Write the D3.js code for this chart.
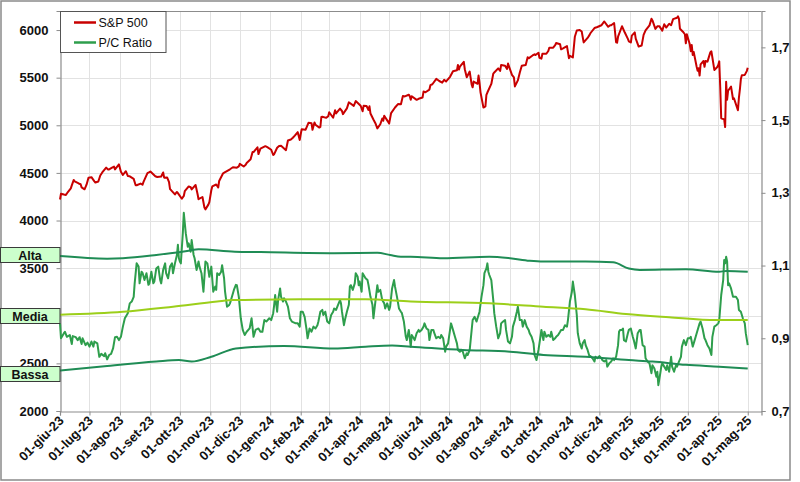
<!DOCTYPE html>
<html><head><meta charset="utf-8">
<script src="https://cdn.jsdelivr.net/npm/d3@7"></script>
<style>body{margin:0;background:#fff}svg{display:block}text{font-family:"Liberation Sans",Arial,sans-serif}</style>
</head><body><svg id="c" width="800" height="482"></svg>
<script>
// ---------- DATA ----------
const spxDates = [
"2023-06-01","2023-06-02","2023-06-05","2023-06-07","2023-06-09","2023-06-12","2023-06-13","2023-06-15","2023-06-16","2023-06-20","2023-06-22","2023-06-23","2023-06-26","2023-06-28","2023-06-30",
"2023-07-03","2023-07-06","2023-07-07","2023-07-10","2023-07-12","2023-07-14","2023-07-18","2023-07-20","2023-07-21","2023-07-24","2023-07-26","2023-07-27","2023-07-31",
"2023-08-02","2023-08-04","2023-08-07","2023-08-09","2023-08-11","2023-08-15","2023-08-17","2023-08-18","2023-08-22","2023-08-24","2023-08-25","2023-08-29","2023-08-31",
"2023-09-01","2023-09-06","2023-09-08","2023-09-12","2023-09-14","2023-09-15","2023-09-18","2023-09-20","2023-09-21","2023-09-22","2023-09-26","2023-09-28","2023-09-29",
"2023-10-03","2023-10-05","2023-10-06","2023-10-10","2023-10-12","2023-10-13","2023-10-17","2023-10-19","2023-10-20","2023-10-24","2023-10-26","2023-10-27","2023-10-30","2023-10-31",
"2023-11-02","2023-11-03","2023-11-07","2023-11-09","2023-11-10","2023-11-14","2023-11-16","2023-11-17","2023-11-21","2023-11-24","2023-11-28","2023-11-30",
"2023-12-01","2023-12-05","2023-12-07","2023-12-08","2023-12-12","2023-12-14","2023-12-15","2023-12-19","2023-12-20","2023-12-22","2023-12-27","2023-12-29",
"2024-01-02","2024-01-04","2024-01-05","2024-01-08","2024-01-10","2024-01-12","2024-01-17","2024-01-19","2024-01-22","2024-01-24","2024-01-26","2024-01-29","2024-01-31",
"2024-02-01","2024-02-02","2024-02-06","2024-02-09","2024-02-12","2024-02-13","2024-02-15","2024-02-16","2024-02-20","2024-02-21","2024-02-22","2024-02-23","2024-02-27","2024-02-29",
"2024-03-01","2024-03-05","2024-03-07","2024-03-08","2024-03-12","2024-03-14","2024-03-15","2024-03-19","2024-03-21","2024-03-22","2024-03-26","2024-03-28",
"2024-04-02","2024-04-04","2024-04-05","2024-04-08","2024-04-10","2024-04-11","2024-04-12","2024-04-15","2024-04-17","2024-04-19","2024-04-22","2024-04-24","2024-04-25","2024-04-26","2024-04-30",
"2024-05-01","2024-05-03","2024-05-07","2024-05-10","2024-05-13","2024-05-15","2024-05-17","2024-05-21","2024-05-22","2024-05-23","2024-05-24","2024-05-29","2024-05-31",
"2024-06-04","2024-06-05","2024-06-07","2024-06-11","2024-06-12","2024-06-14","2024-06-18","2024-06-20","2024-06-21","2024-06-24","2024-06-26","2024-06-28",
"2024-07-02","2024-07-05","2024-07-09","2024-07-10","2024-07-11","2024-07-12","2024-07-16","2024-07-17","2024-07-19","2024-07-22","2024-07-24","2024-07-25","2024-07-26","2024-07-30","2024-07-31",
"2024-08-01","2024-08-02","2024-08-05","2024-08-07","2024-08-08","2024-08-09","2024-08-13","2024-08-15","2024-08-16","2024-08-20","2024-08-22","2024-08-23","2024-08-27","2024-08-29","2024-08-30",
"2024-09-03","2024-09-05","2024-09-06","2024-09-09","2024-09-11","2024-09-13","2024-09-17","2024-09-19","2024-09-20","2024-09-24","2024-09-26","2024-09-27","2024-09-30",
"2024-10-01","2024-10-03","2024-10-04","2024-10-08","2024-10-10","2024-10-11","2024-10-15","2024-10-17","2024-10-18","2024-10-22","2024-10-23","2024-10-25","2024-10-29","2024-10-31",
"2024-11-01","2024-11-04","2024-11-06","2024-11-08","2024-11-11","2024-11-13","2024-11-15","2024-11-19","2024-11-21","2024-11-22","2024-11-26","2024-11-29",
"2024-12-03","2024-12-06","2024-12-10","2024-12-12","2024-12-13","2024-12-16","2024-12-18","2024-12-19","2024-12-20","2024-12-24","2024-12-27","2024-12-30","2024-12-31",
"2025-01-02","2025-01-03","2025-01-06","2025-01-07","2025-01-10","2025-01-13","2025-01-15","2025-01-17","2025-01-21","2025-01-23","2025-01-24","2025-01-27","2025-01-29","2025-01-31",
"2025-02-03","2025-02-05","2025-02-07","2025-02-10","2025-02-12","2025-02-14","2025-02-18","2025-02-19","2025-02-20","2025-02-21","2025-02-24","2025-02-26","2025-02-27","2025-02-28",
"2025-03-03","2025-03-04","2025-03-05","2025-03-06","2025-03-07","2025-03-10","2025-03-11","2025-03-12","2025-03-13","2025-03-14","2025-03-17","2025-03-18","2025-03-19","2025-03-21","2025-03-24","2025-03-25","2025-03-26","2025-03-28","2025-03-31",
"2025-04-01","2025-04-02","2025-04-03","2025-04-04","2025-04-07","2025-04-08","2025-04-09","2025-04-10","2025-04-11","2025-04-14","2025-04-16","2025-04-17","2025-04-21","2025-04-22","2025-04-23","2025-04-24","2025-04-25","2025-04-28","2025-04-30",
"2025-05-01"];
const spxValues = [
4221,4282,4273,4268,4299,4338,4369,4426,4410,4389,4381,4348,4328,4376,4450,
4455,4411,4399,4410,4473,4505,4555,4535,4536,4555,4566,4537,4589,
4513,4478,4518,4468,4464,4437,4370,4370,4388,4376,4406,4497,4508,
4515,4465,4457,4462,4505,4450,4453,4402,4330,4320,4274,4300,4288,
4229,4258,4308,4358,4349,4327,4373,4278,4224,4247,4137,4117,4167,4194,
4318,4358,4378,4347,4415,4496,4508,4514,4538,4559,4555,4568,
4595,4567,4585,4604,4644,4720,4719,4768,4698,4755,4781,4770,
4743,4688,4697,4764,4783,4784,4739,4840,4851,4869,4891,4928,4846,
4906,4959,4954,5027,5022,4953,5030,5006,4976,4982,5087,5089,5078,5096,
5137,5079,5157,5124,5175,5150,5117,5178,5241,5234,5204,5254,
5205,5147,5204,5202,5161,5199,5123,5061,5022,4967,5011,5071,5048,5100,5036,
5018,5128,5187,5223,5221,5308,5303,5321,5307,5268,5305,5267,5278,
5291,5354,5347,5375,5421,5431,5487,5473,5465,5448,5478,5460,
5509,5567,5577,5633,5585,5615,5667,5589,5505,5564,5427,5399,5459,5436,5522,
5446,5346,5186,5199,5319,5344,5434,5543,5554,5597,5571,5634,5625,5592,5648,
5529,5503,5408,5471,5554,5626,5634,5714,5703,5733,5745,5738,5762,
5709,5700,5751,5751,5780,5815,5815,5841,5864,5851,5797,5808,5832,5705,
5729,5712,5929,5995,6001,5985,5870,5917,5949,5969,6021,6032,
6050,6090,6034,6051,6051,6074,5872,5867,5930,6040,5971,5907,5882,
5869,5942,5975,5909,5827,5837,5950,5997,6049,6119,6101,6012,6039,6041,
5994,6061,6026,6066,6051,6115,6129,6144,6117,6013,5983,5956,5861,5955,
5850,5778,5843,5739,5770,5615,5573,5599,5522,5639,5675,5615,5675,5668,5768,5777,5712,5581,5612,
5633,5671,5397,5074,5062,4982,5457,5268,5363,5406,5276,5283,5158,5288,5376,5485,5525,5529,5569,
5604];

const pcDates = [
"2023-06-01","2023-06-02","2023-06-05","2023-06-06","2023-06-08","2023-06-11","2023-06-13","2023-06-14","2023-06-17","2023-06-19","2023-06-21","2023-06-23","2023-06-24","2023-06-27","2023-06-29",
"2023-07-01","2023-07-03","2023-07-05","2023-07-06","2023-07-09","2023-07-11","2023-07-13","2023-07-16","2023-07-17","2023-07-19","2023-07-21","2023-07-23","2023-07-25","2023-07-27","2023-07-29","2023-07-31",
"2023-08-02","2023-08-04","2023-08-06","2023-08-09","2023-08-11","2023-08-13","2023-08-15","2023-08-16","2023-08-18","2023-08-20","2023-08-21","2023-08-23","2023-08-24","2023-08-26","2023-08-28","2023-08-30","2023-08-31",
"2023-09-02","2023-09-04","2023-09-05","2023-09-07","2023-09-09","2023-09-11","2023-09-12","2023-09-14","2023-09-16","2023-09-17","2023-09-19","2023-09-21","2023-09-23","2023-09-24","2023-09-26","2023-09-28","2023-09-29","2023-09-30",
"2023-10-01","2023-10-02","2023-10-04","2023-10-05","2023-10-07","2023-10-09","2023-10-10","2023-10-12","2023-10-13","2023-10-15","2023-10-16","2023-10-18","2023-10-20","2023-10-21","2023-10-23","2023-10-25","2023-10-26","2023-10-27","2023-10-29","2023-10-31",
"2023-11-02","2023-11-04","2023-11-06","2023-11-07","2023-11-08","2023-11-10","2023-11-12","2023-11-13","2023-11-15","2023-11-16","2023-11-18","2023-11-20","2023-11-21","2023-11-23","2023-11-25","2023-11-27","2023-11-28","2023-11-30",
"2023-12-02","2023-12-04","2023-12-06","2023-12-08","2023-12-11","2023-12-13","2023-12-15","2023-12-17","2023-12-20","2023-12-22","2023-12-24","2023-12-26","2023-12-28","2023-12-31",
"2024-01-02","2024-01-04","2024-01-05","2024-01-06","2024-01-08","2024-01-09","2024-01-11","2024-01-12","2024-01-14","2024-01-15","2024-01-17","2024-01-19","2024-01-21","2024-01-23","2024-01-27","2024-01-29","2024-01-31",
"2024-02-01","2024-02-03","2024-02-05","2024-02-07","2024-02-08","2024-02-10","2024-02-12","2024-02-14","2024-02-16","2024-02-18","2024-02-19","2024-02-21","2024-02-23","2024-02-24","2024-02-26","2024-02-28",
"2024-03-01","2024-03-03","2024-03-05","2024-03-06","2024-03-08","2024-03-10","2024-03-12","2024-03-13","2024-03-14","2024-03-16","2024-03-17","2024-03-19","2024-03-21","2024-03-22","2024-03-23","2024-03-25","2024-03-27","2024-03-28","2024-03-30","2024-03-31",
"2024-04-01","2024-04-03","2024-04-04","2024-04-07","2024-04-09","2024-04-10","2024-04-12","2024-04-14","2024-04-15","2024-04-17","2024-04-19","2024-04-20","2024-04-22","2024-04-24","2024-04-26","2024-04-27","2024-04-29",
"2024-05-01","2024-05-02","2024-05-04","2024-05-06","2024-05-07","2024-05-09","2024-05-11","2024-05-13","2024-05-14","2024-05-16","2024-05-18","2024-05-19","2024-05-21","2024-05-23","2024-05-24","2024-05-26","2024-05-27","2024-05-29","2024-05-31",
"2024-06-01","2024-06-03","2024-06-05","2024-06-06","2024-06-08","2024-06-10","2024-06-11","2024-06-13","2024-06-15","2024-06-16","2024-06-18","2024-06-20","2024-06-22","2024-06-23","2024-06-25","2024-06-27","2024-06-28","2024-06-30",
"2024-07-02","2024-07-03","2024-07-05","2024-07-07","2024-07-09","2024-07-10","2024-07-12","2024-07-14","2024-07-15","2024-07-17","2024-07-19","2024-07-20","2024-07-22","2024-07-24","2024-07-25","2024-07-27","2024-07-29","2024-07-31",
"2024-08-01","2024-08-03","2024-08-05","2024-08-06","2024-08-08","2024-08-09","2024-08-10","2024-08-11","2024-08-13","2024-08-15","2024-08-16","2024-08-18","2024-08-20","2024-08-22","2024-08-23","2024-08-25","2024-08-27","2024-08-28","2024-08-30",
"2024-09-01","2024-09-03","2024-09-04","2024-09-06","2024-09-08","2024-09-09","2024-09-11","2024-09-13","2024-09-14","2024-09-16","2024-09-18","2024-09-20","2024-09-21","2024-09-23","2024-09-25","2024-09-26","2024-09-28","2024-09-30",
"2024-10-01","2024-10-03","2024-10-05","2024-10-06","2024-10-08","2024-10-10","2024-10-12","2024-10-13","2024-10-15","2024-10-17","2024-10-18","2024-10-20","2024-10-22","2024-10-23","2024-10-25","2024-10-27","2024-10-29","2024-10-30",
"2024-11-01","2024-11-03","2024-11-04","2024-11-06","2024-11-08","2024-11-09","2024-11-11","2024-11-13","2024-11-14","2024-11-16","2024-11-17","2024-11-19","2024-11-21","2024-11-22","2024-11-24","2024-11-26","2024-11-27","2024-11-29",
"2024-12-01","2024-12-03","2024-12-04","2024-12-06","2024-12-08","2024-12-09","2024-12-11","2024-12-13","2024-12-15","2024-12-16","2024-12-18","2024-12-20","2024-12-21","2024-12-22","2024-12-24","2024-12-25","2024-12-26","2024-12-28","2024-12-30","2024-12-31",
"2025-01-02","2025-01-04","2025-01-05","2025-01-07","2025-01-09","2025-01-11","2025-01-12","2025-01-14","2025-01-16","2025-01-17","2025-01-19","2025-01-21","2025-01-23","2025-01-24","2025-01-26","2025-01-28","2025-01-29","2025-01-30",
"2025-02-01","2025-02-02","2025-02-03","2025-02-05","2025-02-07","2025-02-08","2025-02-10","2025-02-12","2025-02-13","2025-02-15","2025-02-17","2025-02-18","2025-02-20","2025-02-22","2025-02-23","2025-02-25","2025-02-27",
"2025-03-01","2025-03-03","2025-03-04","2025-03-06","2025-03-08","2025-03-09","2025-03-11","2025-03-13","2025-03-14","2025-03-16","2025-03-18","2025-03-19","2025-03-21","2025-03-23","2025-03-25","2025-03-26","2025-03-28","2025-03-30",
"2025-04-01","2025-04-02","2025-04-04","2025-04-06","2025-04-07","2025-04-08","2025-04-09","2025-04-10","2025-04-11","2025-04-12","2025-04-14","2025-04-16","2025-04-17","2025-04-19","2025-04-21","2025-04-22","2025-04-24","2025-04-26","2025-04-28","2025-04-29",
"2025-05-01"];
const pcValues = [
0.941,0.900,0.914,0.918,0.904,0.909,0.884,0.906,0.903,0.895,0.903,0.884,0.900,0.881,0.888,
0.877,0.891,0.877,0.891,0.886,0.849,0.857,0.851,0.859,0.842,0.854,0.857,0.872,0.903,0.904,0.895,
0.904,0.932,0.955,0.969,0.996,1.001,1.014,1.051,1.106,1.097,1.051,1.083,1.080,1.060,1.079,1.047,1.051,
1.083,1.051,1.056,1.092,1.097,1.060,1.051,1.088,1.106,1.079,1.065,1.097,1.106,1.079,1.106,1.129,1.157,1.120,
1.111,1.106,1.189,1.245,1.189,1.152,1.161,1.138,1.170,1.129,1.120,1.088,1.111,1.097,1.079,1.028,1.069,1.111,1.106,1.069,
1.097,1.028,1.042,1.033,1.079,1.074,1.083,1.101,1.065,1.028,0.987,0.991,0.996,1.014,1.033,1.047,1.046,1.014,
0.955,0.923,0.909,0.918,0.927,0.955,0.904,0.923,0.927,0.918,0.918,0.950,0.946,0.955,
0.950,0.969,0.992,1.019,0.973,1.005,1.037,1.014,1.001,1.010,1.001,0.987,0.955,0.946,0.941,0.941,0.932,
0.973,0.973,0.959,0.923,0.900,0.927,0.918,0.932,0.927,0.936,0.946,0.973,0.978,0.964,0.973,0.946,
0.941,0.964,0.973,0.982,0.978,0.992,1.005,0.996,0.973,0.936,0.950,0.973,0.992,1.042,1.046,1.033,1.051,1.079,1.069,1.046,
1.056,1.028,1.079,1.065,1.060,1.046,1.014,0.992,0.955,1.001,1.046,1.028,1.033,1.005,0.996,0.982,0.996,
0.978,0.987,1.037,1.060,1.042,1.014,0.982,0.973,0.969,0.946,0.904,0.895,0.923,0.877,0.909,0.900,0.895,0.914,0.923,
0.918,0.923,0.932,0.941,0.927,0.923,0.895,0.923,0.923,0.914,0.900,0.904,0.900,0.909,0.900,0.863,0.877,0.886,
0.923,0.941,0.923,0.904,0.886,0.868,0.863,0.868,0.863,0.845,0.859,0.854,0.868,0.923,0.950,0.959,0.946,0.964,
0.973,1.014,1.046,1.079,1.092,1.106,1.083,1.074,1.060,1.005,0.969,0.932,0.900,0.914,0.941,0.946,0.950,0.923,0.891,
0.886,0.904,0.932,0.950,0.973,0.987,0.950,0.950,0.932,0.950,0.932,0.923,0.914,0.904,0.886,0.854,0.840,0.868,
0.886,0.923,0.895,0.918,0.904,0.909,0.904,0.918,0.895,0.900,0.904,0.909,0.918,0.923,0.923,0.936,0.932,0.950,
1.001,1.028,1.056,1.019,0.964,0.914,0.886,0.872,0.886,0.895,0.881,0.868,0.849,0.851,0.845,0.836,0.849,0.845,
0.851,0.845,0.840,0.836,0.840,0.822,0.831,0.836,0.845,0.840,0.849,0.881,0.918,0.923,0.923,0.927,0.895,0.891,0.914,0.923,
0.927,0.904,0.895,0.872,0.914,0.923,0.923,0.881,0.877,0.845,0.836,0.831,0.804,0.826,0.817,0.794,0.808,0.771,
0.804,0.822,0.831,0.822,0.813,0.826,0.808,0.849,0.822,0.808,0.826,0.822,0.836,0.849,0.877,0.895,0.881,
0.900,0.900,0.904,0.877,0.895,0.904,0.923,0.941,0.946,0.927,0.900,0.895,0.881,0.872,0.854,0.904,0.932,0.936,
0.941,0.950,1.019,1.060,1.115,1.106,1.124,1.111,1.046,1.051,1.037,1.014,1.014,1.014,1.005,0.978,0.973,0.955,0.941,0.914,
0.881];

const altaDates = ["2023-06-01","2023-07-19","2023-08-04","2023-09-07","2023-10-10","2023-10-20","2023-11-26","2023-12-22","2024-03-06","2024-04-19","2024-05-02","2024-05-13","2024-05-23","2024-06-25","2024-08-11","2024-09-01","2024-09-21","2024-10-05","2024-11-17","2024-12-15","2024-12-31","2025-01-11","2025-02-27","2025-04-02","2025-04-09","2025-05-01"];
const altaValues = [1.126,1.119,1.120,1.129,1.141,1.145,1.138,1.137,1.134,1.135,1.129,1.124,1.124,1.120,1.124,1.120,1.113,1.111,1.111,1.109,1.092,1.088,1.090,1.083,1.085,1.083];
const mediaDates = ["2023-06-01","2023-08-04","2023-09-24","2023-11-08","2023-11-24","2024-02-01","2024-04-07","2024-05-23","2024-08-11","2024-10-05","2024-11-17","2024-12-28","2025-02-10","2025-03-30","2025-05-01"];
const mediaValues = [0.965,0.973,0.987,1.001,1.005,1.007,1.007,1.001,0.996,0.987,0.980,0.967,0.958,0.950,0.950];
const bassaDates = ["2023-06-01","2023-07-19","2023-09-07","2023-09-30","2023-10-13","2023-11-02","2023-11-27","2024-01-15","2024-03-06","2024-04-07","2024-05-04","2024-05-23","2024-07-15","2024-09-01","2024-10-05","2024-11-17","2024-12-31","2025-01-24","2025-02-27","2025-04-02","2025-05-01"];
const bassaValues = [0.811,0.824,0.836,0.840,0.836,0.849,0.872,0.879,0.872,0.877,0.880,0.877,0.868,0.863,0.854,0.849,0.840,0.836,0.827,0.822,0.817];

const xDomain = ["2023-06-01","2025-05-15"];
const leftDomain = [2000, 6200];
const rightDomain = [0.7, 1.8];
const leftTicks = [2000,2500,3000,3500,4000,4500,5000,5500,6000];
const rightTicks = [0.7,0.9,1.1,1.3,1.5,1.7];
const monthTickDates = ["2023-06-01","2023-07-01","2023-08-01","2023-09-01","2023-10-01","2023-11-01","2023-12-01","2024-01-01","2024-02-01","2024-03-01","2024-04-01","2024-05-01","2024-06-01","2024-07-01","2024-08-01","2024-09-01","2024-10-01","2024-11-01","2024-12-01","2025-01-01","2025-02-01","2025-03-01","2025-04-01","2025-05-01"];
const monthTickLabels = ["01-giu-23","01-lug-23","01-ago-23","01-set-23","01-ott-23","01-nov-23","01-dic-23","01-gen-24","01-feb-24","01-mar-24","01-apr-24","01-mag-24","01-giu-24","01-lug-24","01-ago-24","01-set-24","01-ott-24","01-nov-24","01-dic-24","01-gen-25","01-feb-25","01-mar-25","01-apr-25","01-mag-25"];
const seriesNames = ["S&P 500","P/C Ratio"];
const bandNames = ["Alta","Media","Bassa"];

// ---------- CHART ----------
const parse = d3.utcParse("%Y-%m-%d");
const svg = d3.select("#c");
const L = 60, R = 761.5, T = 11, B = 411;
const x = d3.scaleUtc().domain(xDomain.map(parse)).range([L, R]);
const yL = d3.scaleLinear().domain(leftDomain).range([B, T]);
const yR = d3.scaleLinear().domain(rightDomain).range([B, T]);
const C = {spx:"#c80000", pc:"#2e9e4c", band:"#1f8c55", media:"#9ccf1a", grid:"#e2e2e2", axis:"#8c8c8c"};

// outer frame
svg.append("rect").attr("x",1).attr("y",1).attr("width",789).attr("height",479)
  .attr("fill","#fff").attr("stroke","#8a8a8a").attr("stroke-width",1.5);

// gridlines
svg.append("g").selectAll("line").data(leftTicks.slice(1)).join("line")
  .attr("x1",L).attr("x2",R).attr("y1",d=>Math.round(yL(d))+0.5).attr("y2",d=>Math.round(yL(d))+0.5)
  .attr("stroke",C.grid).attr("stroke-width",1);
svg.append("g").selectAll("line").data(monthTickDates.slice(1)).join("line")
  .attr("x1",d=>Math.round(x(parse(d)))+0.5).attr("x2",d=>Math.round(x(parse(d)))+0.5).attr("y1",T).attr("y2",B)
  .attr("stroke",C.grid).attr("stroke-width",1);

// plot border top
svg.append("line").attr("x1",L).attr("x2",R).attr("y1",T+0.5).attr("y2",T+0.5).attr("stroke",C.axis);

// axes
const fmtR = d => d3.format(".1f")(d).replace(".",",");
const gL = svg.append("g").attr("transform",`translate(${L+0.5},0)`)
  .call(d3.axisLeft(yL).tickValues(leftTicks).tickSize(4).tickPadding(8).tickFormat(d3.format("d")));
const gR = svg.append("g").attr("transform",`translate(${R},0)`)
  .call(d3.axisRight(yR).tickValues(rightTicks).tickSize(4).tickPadding(6).tickFormat(fmtR));
const gB = svg.append("g").attr("transform",`translate(0,${B+0.5})`)
  .call(d3.axisBottom(x).tickValues(monthTickDates.map(parse)).tickSize(4).tickFormat((d,i)=>monthTickLabels[i]));
[gL,gR,gB].forEach(g=>{
  g.selectAll("path").attr("stroke",C.axis).attr("stroke-width",1.2);
  g.selectAll("line").attr("stroke",C.axis);
  g.selectAll("text").attr("fill","#111").attr("font-weight","bold").attr("font-size","13px")
   .attr("font-family",'"Liberation Sans",Arial,sans-serif');
});
gB.selectAll("text").attr("text-anchor","end").attr("dy",null).attr("y",null)
  .attr("transform","translate(4,10) rotate(-45)");

// lines
const lineL = d3.line().x(d=>x(d[0])).y(d=>yL(d[1]));
const lineR = d3.line().x(d=>x(d[0])).y(d=>yR(d[1]));
const lineBand = d3.line().curve(d3.curveMonotoneX).x(d=>x(d[0])).y(d=>yR(d[1]));
const zip = (ds,vs)=>ds.map((d,i)=>[parse(d),vs[i]]);

svg.append("path").datum(zip(spxDates,spxValues)).attr("d",lineL)
  .attr("fill","none").attr("stroke",C.spx).attr("stroke-width",2).attr("stroke-linejoin","round");
svg.append("path").datum(zip(pcDates,pcValues)).attr("d",lineR)
  .attr("fill","none").attr("stroke",C.pc).attr("stroke-width",2).attr("stroke-linejoin","round");
const bands = [[altaDates,altaValues,C.band],[mediaDates,mediaValues,C.media],[bassaDates,bassaValues,C.band]];
bands.forEach(([ds,vs,col])=>{
  svg.append("path").datum(zip(ds,vs)).attr("d",lineBand)
    .attr("fill","none").attr("stroke",col).attr("stroke-width",2);
});

// band labels (anchored on each band's first value, nudged as in the original)
const labelNudge = [-2, 1, 2.5];
bands.forEach(([ds,vs],i)=>{
  const top = Math.round(yR(vs[0]) - 7.5 + labelNudge[i]) + 0.5;
  const g = svg.append("g");
  g.append("rect").attr("x",0.5).attr("y",top).attr("width",59.5).attr("height",15)
    .attr("fill","#ccffcc").attr("stroke","#3a3a3a").attr("stroke-width",1);
  g.append("text").attr("x",30).attr("y",top+12).attr("text-anchor","middle")
    .attr("font-size","12.5px").attr("font-weight","bold").attr("fill","#111").text(bandNames[i]);
});

// legend
const lg = svg.append("g");
lg.append("rect").attr("x",L+0.5).attr("y",T+0.5).attr("width",105.5).attr("height",41)
  .attr("fill","#fff").attr("stroke","#555");
[[C.spx,22.5],[C.pc,42.5]].forEach(([col,yy],i)=>{
  lg.append("line").attr("x1",74).attr("x2",96).attr("y1",yy).attr("y2",yy).attr("stroke",col).attr("stroke-width",2.5);
  lg.append("text").attr("x",98.5).attr("y",yy+4.5).attr("font-size","12.5px").attr("fill","#111").text(seriesNames[i]);
});
</script></body></html>
